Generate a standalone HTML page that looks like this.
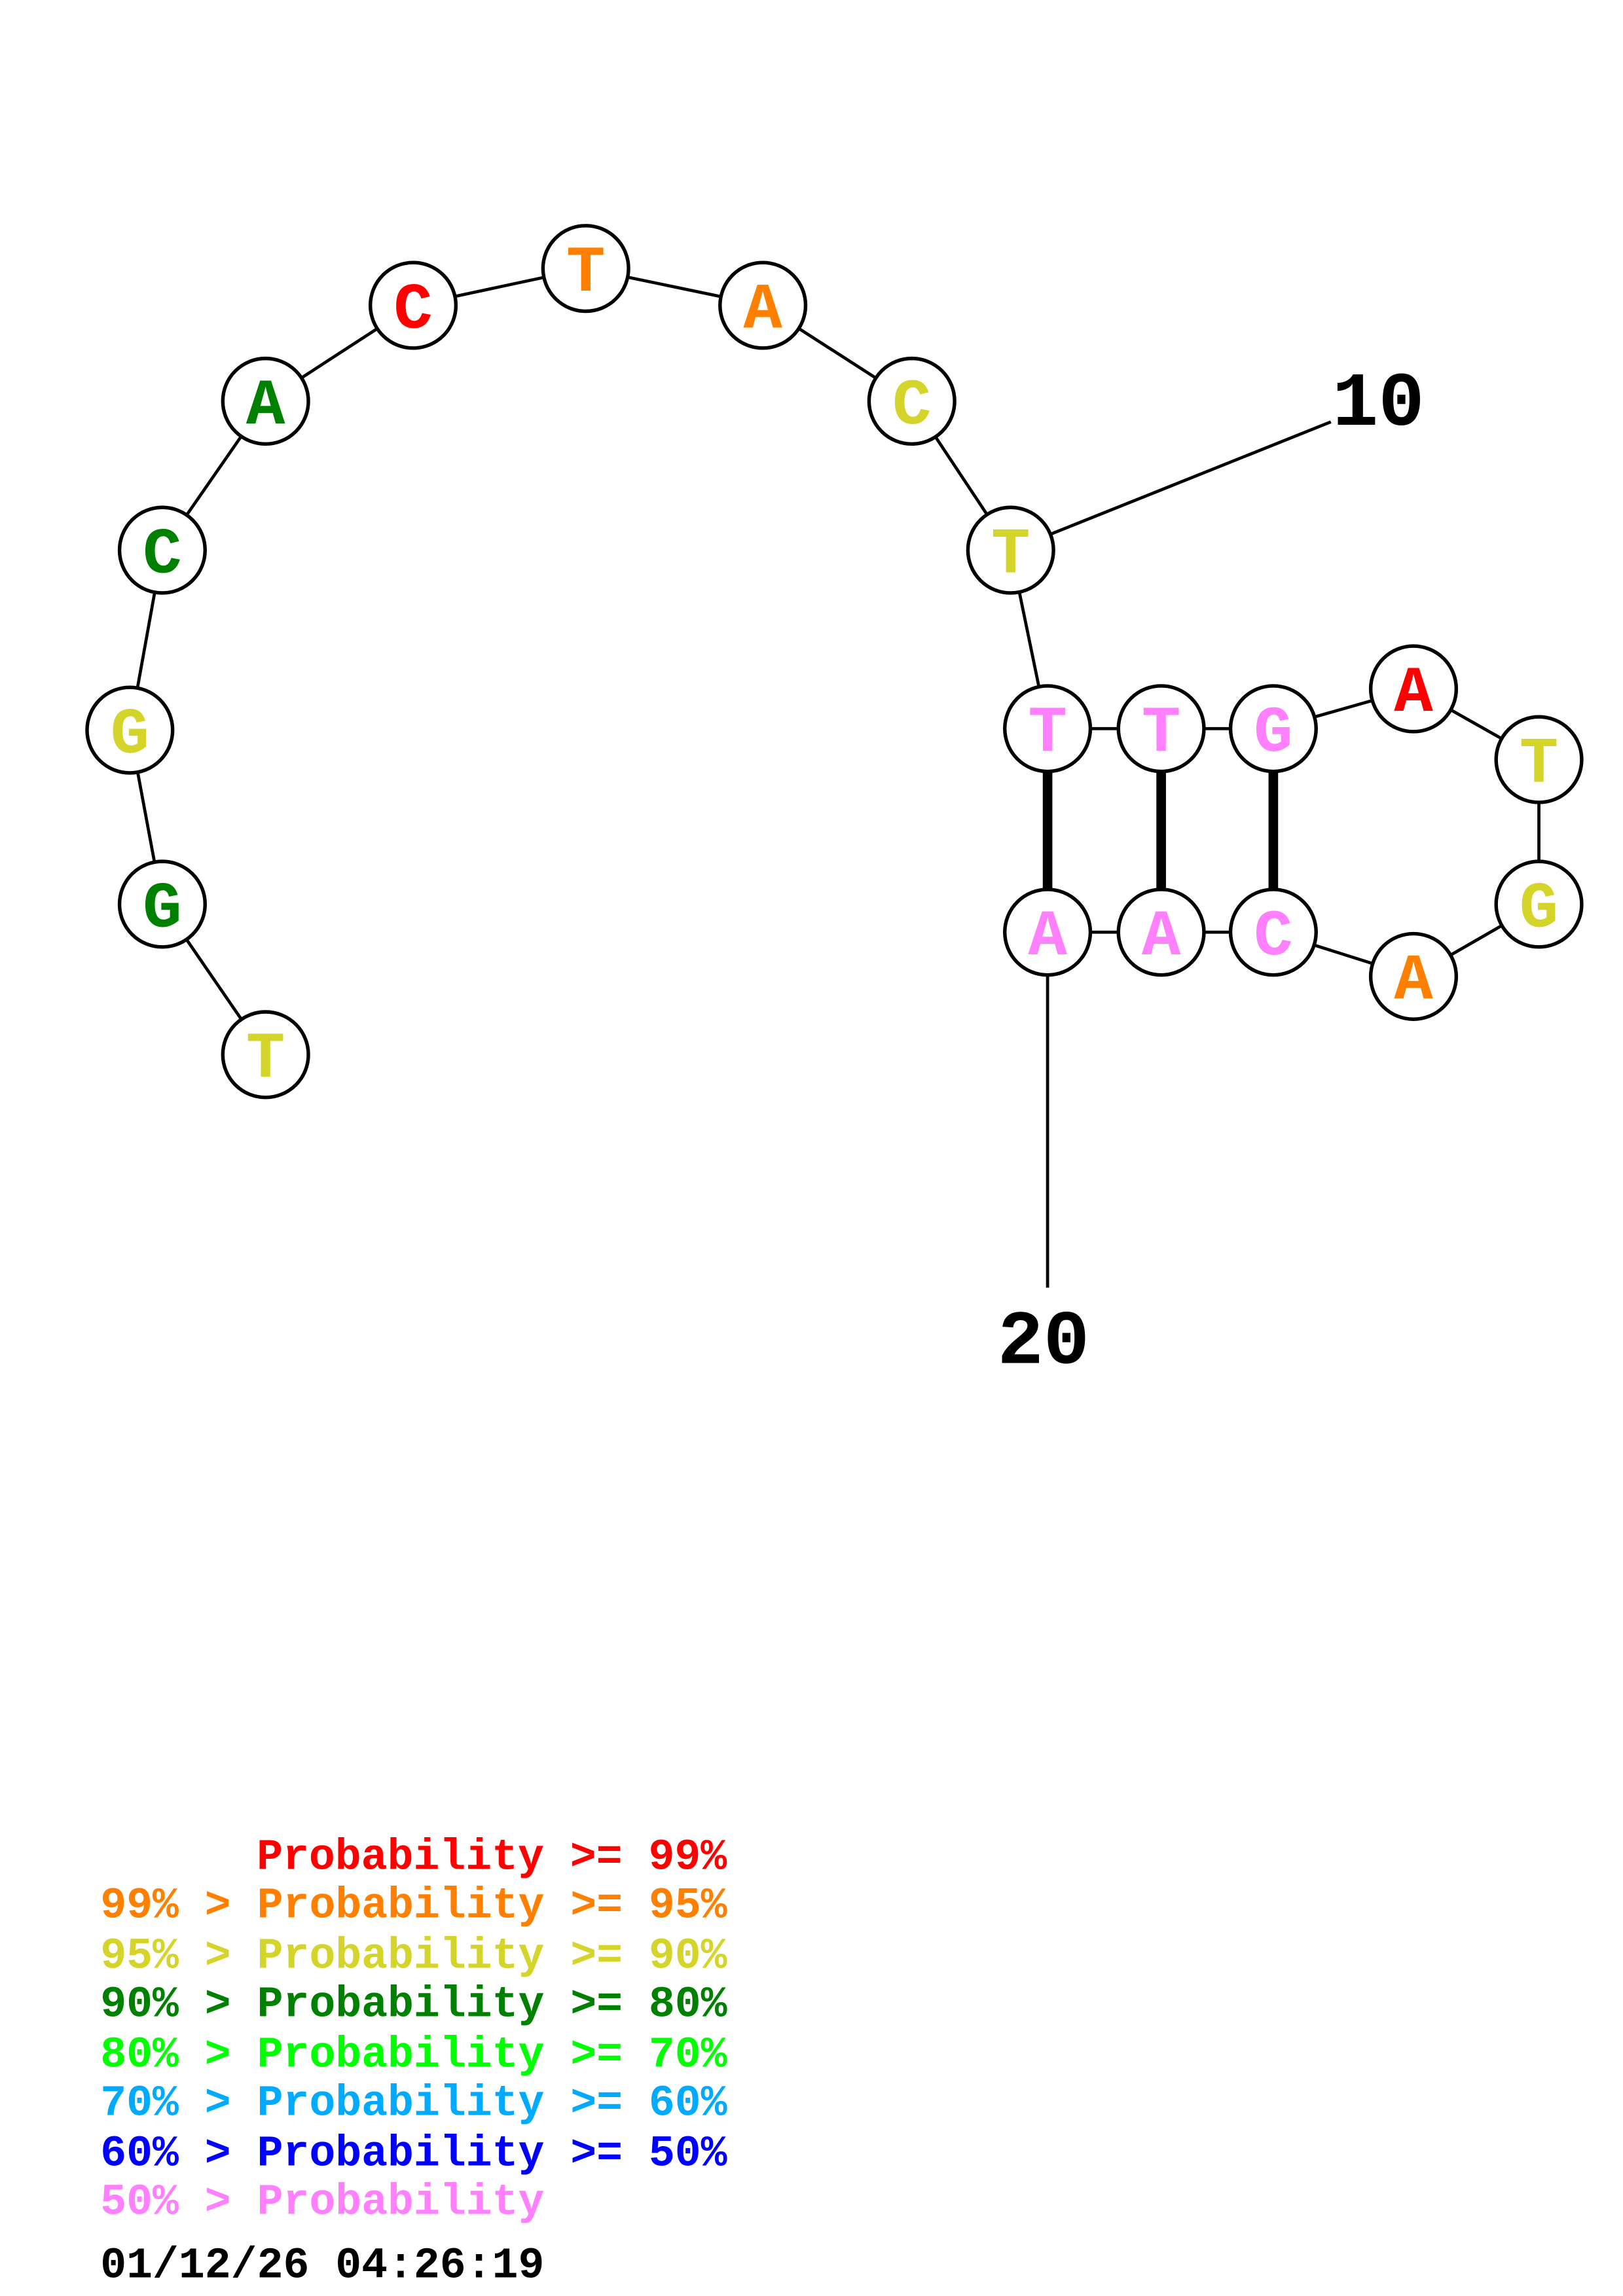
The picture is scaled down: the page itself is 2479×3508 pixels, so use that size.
<!DOCTYPE html>
<html><head><meta charset="utf-8"><style>html,body{margin:0;padding:0;background:#fff}svg{display:block}</style></head>
<body>
<svg width="2479" height="3508" viewBox="0 0 1100 1556.6" xmlns="http://www.w3.org/2000/svg">
<rect width="1100" height="1556.6" fill="#fff"/>
<g stroke="#000" stroke-width="2.1" fill="none">
<polyline points="180,715 110,613 88,495 110,373 180,272 280,207 397,182 517,207 618,272 685,373 710,494 787,494 863,494 958,467 1043,515 1043,613 958,662 863,632 787,632 710,632 710,873"/>
<line x1="685" y1="373" x2="902" y2="286"/>
</g>
<g stroke="#000" stroke-width="6.5">
<line x1="710" y1="494" x2="710" y2="632"/>
<line x1="787" y1="494" x2="787" y2="632"/>
<line x1="863" y1="494" x2="863" y2="632"/>
</g>
<g stroke="#000" stroke-width="2.4" fill="#fff">
<circle cx="180" cy="715" r="29"/><circle cx="110" cy="613" r="29"/><circle cx="88" cy="495" r="29"/><circle cx="110" cy="373" r="29"/><circle cx="180" cy="272" r="29"/><circle cx="280" cy="207" r="29"/><circle cx="397" cy="182" r="29"/><circle cx="517" cy="207" r="29"/><circle cx="618" cy="272" r="29"/><circle cx="685" cy="373" r="29"/><circle cx="710" cy="494" r="29"/><circle cx="787" cy="494" r="29"/><circle cx="863" cy="494" r="29"/><circle cx="958" cy="467" r="29"/><circle cx="1043" cy="515" r="29"/><circle cx="1043" cy="613" r="29"/><circle cx="958" cy="662" r="29"/><circle cx="863" cy="632" r="29"/><circle cx="787" cy="632" r="29"/><circle cx="710" cy="632" r="29"/>
</g>
<g font-family="Liberation Mono, monospace" font-weight="bold" font-size="44" text-anchor="middle">
<text x="180" y="730" fill="#d4d42a">T</text>
<text x="110" y="628" fill="#008000">G</text>
<text x="88" y="510" fill="#d4d42a">G</text>
<text x="110" y="388" fill="#008000">C</text>
<text x="180" y="287" fill="#008000">A</text>
<text x="280" y="222" fill="#ff0000">C</text>
<text x="397" y="197" fill="#ff8000">T</text>
<text x="517" y="222" fill="#ff8000">A</text>
<text x="618" y="287" fill="#d4d42a">C</text>
<text x="685" y="388" fill="#d4d42a">T</text>
<text x="710" y="509" fill="#ff80ff">T</text>
<text x="787" y="509" fill="#ff80ff">T</text>
<text x="863" y="509" fill="#ff80ff">G</text>
<text x="958" y="482" fill="#ff0000">A</text>
<text x="1043" y="530" fill="#d4d42a">T</text>
<text x="1043" y="628" fill="#d4d42a">G</text>
<text x="958" y="677" fill="#ff8000">A</text>
<text x="863" y="647" fill="#ff80ff">C</text>
<text x="787" y="647" fill="#ff80ff">A</text>
<text x="710" y="647" fill="#ff80ff">A</text>
</g>
<g font-family="Liberation Mono, monospace" font-weight="bold" font-size="52" fill="#000">
<text x="903" y="288">10</text>
<text x="676" y="924">20</text>
</g>
<g font-family="Liberation Mono, monospace" font-weight="bold" font-size="29.5">
<text x="174" y="1267" fill="#ff0000">Probability &gt;= 99%</text>
<text x="68" y="1300" fill="#ff8000">99% &gt; Probability &gt;= 95%</text>
<text x="68" y="1334" fill="#d4d42a">95% &gt; Probability &gt;= 90%</text>
<text x="68" y="1367" fill="#008000">90% &gt; Probability &gt;= 80%</text>
<text x="68" y="1401" fill="#00ff00">80% &gt; Probability &gt;= 70%</text>
<text x="68" y="1434" fill="#00aaff">70% &gt; Probability &gt;= 60%</text>
<text x="68" y="1468" fill="#0000ff">60% &gt; Probability &gt;= 50%</text>
<text x="68" y="1501" fill="#ff80ff">50% &gt; Probability</text>
<text x="68" y="1544" fill="#000">01/12/26 04:26:19</text>
</g>
</svg>
</body></html>
